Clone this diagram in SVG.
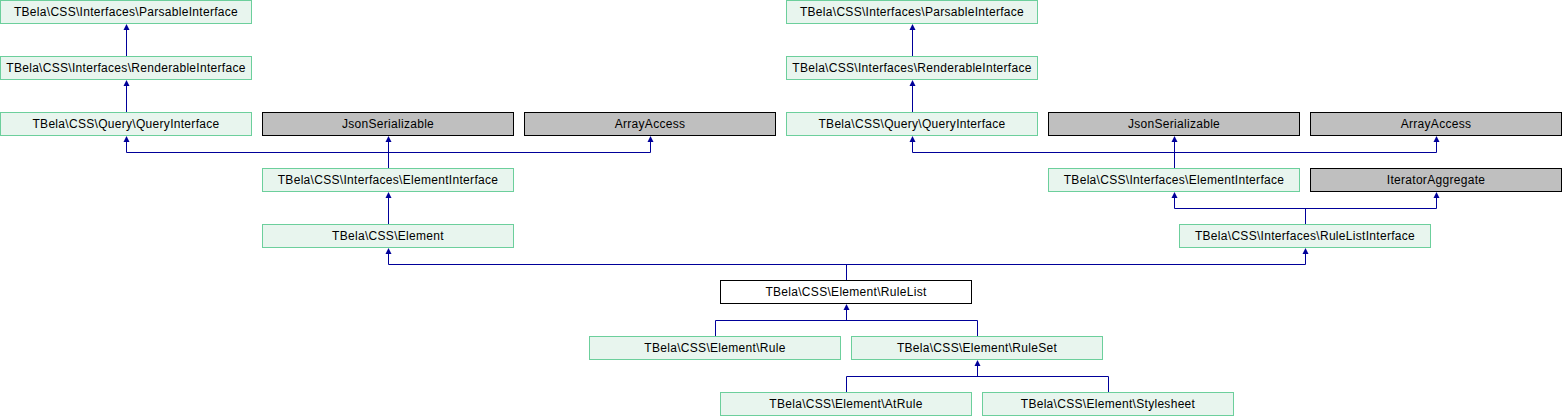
<svg xmlns="http://www.w3.org/2000/svg" xmlns:xlink="http://www.w3.org/1999/xlink" width="1562" height="416" viewBox="0 0 1562 416">
<style>
.n rect{stroke-width:1}
.g rect{fill:#e8f5ee;stroke:#6ccf9c}
.x rect{fill:#bfbfbf;stroke:#000}
.w rect{fill:#fff;stroke:#000}
text{font-family:"Liberation Sans",Arial,sans-serif;font-size:12px;letter-spacing:0.3px;text-anchor:middle;fill:#000}
#edges path{fill:none;stroke:#000099;stroke-width:1}
#edges use{fill:#000099}
</style>
<defs>
<path id="ah" d="M0,0 L3,6 L-3,6 Z"/>
</defs>
<rect width="1562" height="416" fill="#fff"/>
<g id="edges">
<path d="M126.5,56V29"/><use xlink:href="#ah" x="126.5" y="24"/>
<path d="M126.5,112V85"/><use xlink:href="#ah" x="126.5" y="80"/>
<path d="M388.5,168V152.5M126.5,152.5H650.5M126.5,152.5V141M388.5,152.5V141M650.5,152.5V141"/>
<use xlink:href="#ah" x="126.5" y="136"/><use xlink:href="#ah" x="388.5" y="136"/><use xlink:href="#ah" x="650.5" y="136"/>
<path d="M388.5,224V197"/><use xlink:href="#ah" x="388.5" y="192"/>
<path d="M912.5,56V29"/><use xlink:href="#ah" x="912.5" y="24"/>
<path d="M912.5,112V85"/><use xlink:href="#ah" x="912.5" y="80"/>
<path d="M1174.5,168V152.5M912.5,152.5H1436.5M912.5,152.5V141M1174.5,152.5V141M1436.5,152.5V141"/>
<use xlink:href="#ah" x="912.5" y="136"/><use xlink:href="#ah" x="1174.5" y="136"/><use xlink:href="#ah" x="1436.5" y="136"/>
<path d="M1305.5,224V208.5M1174.5,208.5H1436.5M1174.5,208.5V197M1436.5,208.5V197"/>
<use xlink:href="#ah" x="1174.5" y="192"/><use xlink:href="#ah" x="1436.5" y="192"/>
<path d="M846.5,280V264.5M388.5,264.5H1305.5M388.5,264.5V253M1305.5,264.5V253"/>
<use xlink:href="#ah" x="388.5" y="248"/><use xlink:href="#ah" x="1305.5" y="248"/>
<path d="M715.5,336V320.5H977.5V336M846.5,320.5V309"/>
<use xlink:href="#ah" x="846.5" y="304"/>
<path d="M846.5,392V376.5H1108.5V392M977.5,376.5V365"/>
<use xlink:href="#ah" x="977.5" y="360"/>
</g>
<g id="parsable1" class="n g"><rect x="0.5" y="0.5" width="251" height="23"/><text x="126" y="15.5">TBela\CSS\Interfaces\ParsableInterface</text></g>
<g id="renderable1" class="n g"><rect x="0.5" y="56.5" width="251" height="23"/><text x="126" y="71.5">TBela\CSS\Interfaces\RenderableInterface</text></g>
<g id="query1" class="n g"><rect x="0.5" y="112.5" width="251" height="23"/><text x="126" y="127.5">TBela\CSS\Query\QueryInterface</text></g>
<g id="json1" class="n x"><rect x="262.5" y="112.5" width="251" height="23"/><text x="388" y="127.5">JsonSerializable</text></g>
<g id="array1" class="n x"><rect x="524.5" y="112.5" width="251" height="23"/><text x="650" y="127.5">ArrayAccess</text></g>
<g id="elementinterface1" class="n g"><rect x="262.5" y="168.5" width="251" height="23"/><text x="388" y="183.5">TBela\CSS\Interfaces\ElementInterface</text></g>
<g id="element" class="n g"><rect x="262.5" y="224.5" width="251" height="23"/><text x="388" y="239.5">TBela\CSS\Element</text></g>
<g id="parsable2" class="n g"><rect x="786.5" y="0.5" width="251" height="23"/><text x="912" y="15.5">TBela\CSS\Interfaces\ParsableInterface</text></g>
<g id="renderable2" class="n g"><rect x="786.5" y="56.5" width="251" height="23"/><text x="912" y="71.5">TBela\CSS\Interfaces\RenderableInterface</text></g>
<g id="query2" class="n g"><rect x="786.5" y="112.5" width="251" height="23"/><text x="912" y="127.5">TBela\CSS\Query\QueryInterface</text></g>
<g id="json2" class="n x"><rect x="1048.5" y="112.5" width="251" height="23"/><text x="1174" y="127.5">JsonSerializable</text></g>
<g id="array2" class="n x"><rect x="1310.5" y="112.5" width="251" height="23"/><text x="1436" y="127.5">ArrayAccess</text></g>
<g id="elementinterface2" class="n g"><rect x="1048.5" y="168.5" width="251" height="23"/><text x="1174" y="183.5">TBela\CSS\Interfaces\ElementInterface</text></g>
<g id="iteratoraggregate" class="n x"><rect x="1310.5" y="168.5" width="251" height="23"/><text x="1436" y="183.5">IteratorAggregate</text></g>
<g id="rulelistinterface" class="n g"><rect x="1179.5" y="224.5" width="251" height="23"/><text x="1305" y="239.5">TBela\CSS\Interfaces\RuleListInterface</text></g>
<g id="rulelist" class="n w"><rect x="720.5" y="280.5" width="251" height="23"/><text x="846" y="295.5">TBela\CSS\Element\RuleList</text></g>
<g id="rule" class="n g"><rect x="589.5" y="336.5" width="251" height="23"/><text x="715" y="351.5">TBela\CSS\Element\Rule</text></g>
<g id="ruleset" class="n g"><rect x="851.5" y="336.5" width="251" height="23"/><text x="977" y="351.5">TBela\CSS\Element\RuleSet</text></g>
<g id="atrule" class="n g"><rect x="720.5" y="392.5" width="251" height="23"/><text x="846" y="407.5">TBela\CSS\Element\AtRule</text></g>
<g id="stylesheet" class="n g"><rect x="982.5" y="392.5" width="251" height="23"/><text x="1108" y="407.5">TBela\CSS\Element\Stylesheet</text></g>
</svg>
